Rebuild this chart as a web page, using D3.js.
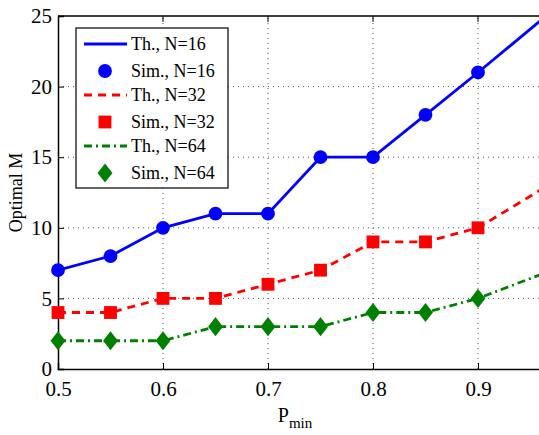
<!DOCTYPE html>
<html>
<head>
<meta charset="utf-8">
<script src="https://cdn.jsdelivr.net/npm/d3@7"></script>
<style>
  body { margin: 0; background: #fff; }
</style>
</head>
<body>
<div id="chart"></div>
<script>
// data
const pmin = [0.5, 0.55, 0.6, 0.65, 0.7, 0.75, 0.8, 0.85, 0.9];
const pminTh = [0.5, 0.55, 0.6, 0.65, 0.7, 0.75, 0.8, 0.85, 0.9, 0.96];
const simN16 = [7, 8, 10, 11, 11, 15, 15, 18, 21];
const simN32 = [4, 4, 5, 5, 6, 7, 9, 9, 10];
const simN64 = [2, 2, 2, 3, 3, 3, 4, 4, 5];
const thN16 = [7, 8, 10, 11, 11, 15, 15, 18, 21, 24.7];
const thN32 = [4, 4, 5, 5, 6, 7, 9, 9, 10, 12.7];
const thN64 = [2, 2, 2, 3, 3, 3, 4, 4, 5, 6.7];
const xTicks = [0.5, 0.6, 0.7, 0.8, 0.9];
const yTicks = [0, 5, 10, 15, 20, 25];

const serif = '"Liberation Serif"';
const width = 539, height = 435;
const margin = { top: 16, left: 58 };
const plotBottom = 369;

// matlab-like diamond, a bit wider than d3's
const wideDiamond = {
    draw(ctx, size) {
        const h = Math.sqrt(size) * 0.78, w = h * 0.78;
        ctx.moveTo(0, -h);
        ctx.lineTo(w, 0);
        ctx.lineTo(0, h);
        ctx.lineTo(-w, 0);
        ctx.closePath();
    }
};

const svg = d3.select('#chart').append('svg')
    .attr('width', width)
    .attr('height', height)
    .style('font-family', serif);

const x = d3.scaleLinear().domain([0.5, 1.0]).range([margin.left, margin.left + 525]);
const y = d3.scaleLinear().domain([0, 25]).range([plotBottom, margin.top]);

svg.append('defs').append('clipPath').attr('id', 'clip')
    .append('rect')
    .attr('x', margin.left).attr('y', margin.top)
    .attr('width', width - margin.left).attr('height', plotBottom - margin.top);

// grid
const grid = svg.append('g');
grid.selectAll('.gx').data(xTicks.slice(1)).enter().append('line')
    .attr('x1', d => x(d)).attr('x2', d => x(d))
    .attr('y1', y(0)).attr('y2', y(25))
    .attr('stroke', '#555').attr('stroke-width', 1).attr('stroke-dasharray', '1,4');
grid.selectAll('.gy').data(yTicks.slice(1, -1)).enter().append('line')
    .attr('x1', x(0.5)).attr('x2', width)
    .attr('y1', d => y(d)).attr('y2', d => y(d))
    .attr('stroke', '#555').attr('stroke-width', 1).attr('stroke-dasharray', '1,4');

// axes
svg.append('g')
    .attr('transform', `translate(0,${plotBottom})`)
    .call(d3.axisBottom(x).tickValues(xTicks).tickSize(-6).tickPadding(12).tickFormat(d3.format('.1f')))
    .call(g => g.selectAll('text').attr('font-size', 21).style('font-family', serif))
    .call(g => g.select('.domain').attr('stroke-width', 1.5));

svg.append('g')
    .attr('transform', `translate(${margin.left},0)`)
    .call(d3.axisLeft(y).tickValues(yTicks).tickSize(-6).tickPadding(6))
    .call(g => g.selectAll('text').attr('font-size', 21).style('font-family', serif))
    .call(g => g.select('.domain').attr('stroke-width', 1.5));

// top spine
svg.append('line')
    .attr('x1', x(0.5)).attr('x2', width)
    .attr('y1', y(25)).attr('y2', y(25))
    .attr('stroke', '#000').attr('stroke-width', 1.5);
svg.append('g').selectAll('line').data(xTicks.slice(1)).enter().append('line')
    .attr('x1', d => x(d)).attr('x2', d => x(d))
    .attr('y1', y(25)).attr('y2', y(25) + 6)
    .attr('stroke', '#000');

const series = [
    { th: thN16, sim: simN16, color: '#0000ff', dash: null, shape: d3.symbolCircle, size: 150, label: 'N=16' },
    { th: thN32, sim: simN32, color: '#ff0000', dash: '8,6', shape: d3.symbolSquare, size: 165, label: 'N=32' },
    { th: thN64, sim: simN64, color: '#008000', dash: '8,4,2,4', shape: wideDiamond, size: 150, label: 'N=64' }
];

const line = d3.line().x((d, i) => x(pminTh[i])).y(d => y(d));
const plot = svg.append('g').attr('clip-path', 'url(#clip)');

series.forEach(s => {
    plot.append('path')
        .datum(s.th)
        .attr('d', line)
        .attr('fill', 'none')
        .attr('stroke', s.color)
        .attr('stroke-width', 2.8)
        .attr('stroke-dasharray', s.dash);
    svg.append('g').selectAll('path').data(s.sim).enter().append('path')
        .attr('d', d3.symbol().type(s.shape).size(s.size))
        .attr('transform', (d, i) => `translate(${x(pmin[i])},${y(d)})`)
        .attr('fill', s.color);
});

// legend
const legend = svg.append('g').attr('transform', 'translate(76,28)');
legend.append('rect')
    .attr('width', 152).attr('height', 160)
    .attr('fill', '#fff').attr('stroke', '#000').attr('stroke-width', 1.2);

series.forEach((s, k) => {
    const yTh = 16 + k * 51, ySim = yTh + 27;
    legend.append('line')
        .attr('x1', 8).attr('x2', 51).attr('y1', yTh).attr('y2', yTh)
        .attr('stroke', s.color).attr('stroke-width', 2.8)
        .attr('stroke-dasharray', s.dash);
    legend.append('text').attr('x', 55).attr('y', yTh).attr('dy', '0.35em')
        .attr('font-size', 18).style('font-family', serif).text('Th., ' + s.label);
    legend.append('path')
        .attr('d', d3.symbol().type(s.shape).size(s.size))
        .attr('transform', `translate(29,${ySim})`)
        .attr('fill', s.color);
    legend.append('text').attr('x', 55).attr('y', ySim).attr('dy', '0.35em')
        .attr('font-size', 18).style('font-family', serif).text('Sim., ' + s.label);
});

// axis labels
svg.append('text')
    .attr('transform', `translate(22,${(y(0) + y(25)) / 2}) rotate(-90)`)
    .attr('text-anchor', 'middle')
    .attr('font-size', 18)
    .style('font-family', serif)
    .text('Optimal M');

const xl = svg.append('text')
    .attr('x', 295).attr('y', 422)
    .attr('text-anchor', 'middle')
    .attr('font-size', 20)
    .style('font-family', serif);
xl.append('tspan').text('P');
xl.append('tspan').attr('font-size', 15).attr('dy', 6).text('min');
</script>
</body>
</html>
